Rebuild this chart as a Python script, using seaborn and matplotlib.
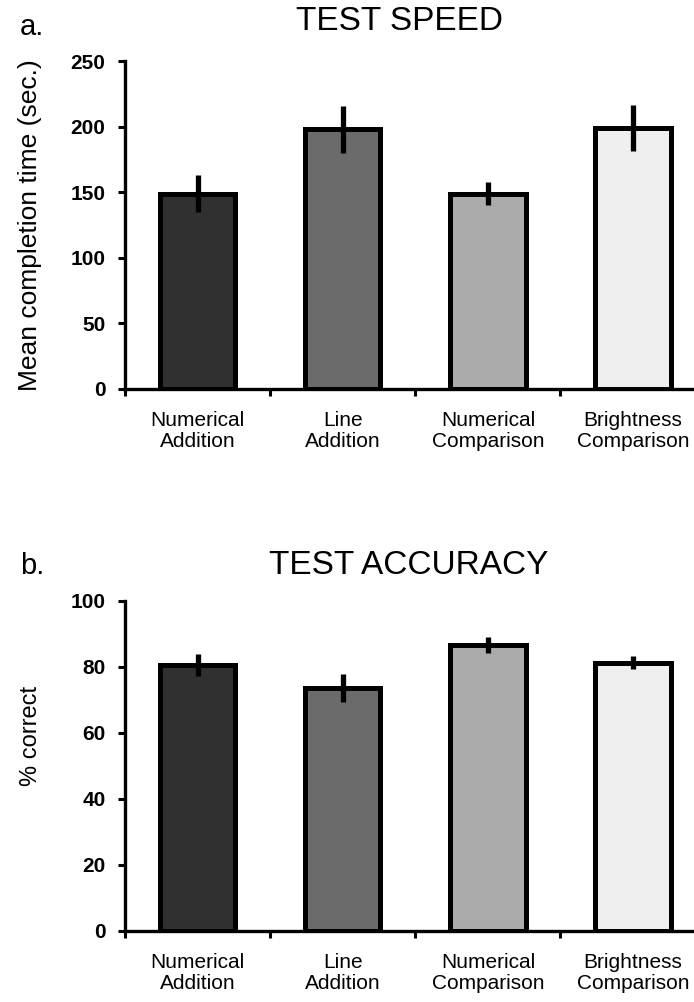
import numpy as np
import pandas as pd
import matplotlib
matplotlib.use("Agg")
import matplotlib.pyplot as plt
import seaborn as sns

categories = ["Numerical\nAddition", "Line\nAddition", "Numerical\nComparison", "Brightness\nComparison"]
colores = ["#303030", "#6b6b6b", "#ababab", "#efefef"]

speed_mean = [149, 198, 149, 199]
speed_err = [14, 18, 8.5, 17.5]

acc_mean = [80.6, 73.7, 86.7, 81.3]
acc_err = [3.4, 4.3, 2.4, 2.0]

sns.set_theme(style="ticks")
plt.rcParams["font.family"] = ["Liberation Sans", "DejaVu Sans"]
for k in ["text.color", "axes.labelcolor", "xtick.color", "ytick.color", "axes.edgecolor"]:
    plt.rcParams[k] = "black"

fig = plt.figure(figsize=(6.94, 10.02), dpi=100)
ax1 = fig.add_axes([0.1801, 0.6118, 0.8199, 0.3273])
ax2 = fig.add_axes([0.1801, 0.0709, 0.8199, 0.3293])


def panel(ax, medias, errores, ymax, paso, ylabel, ylab_size, ylab_y):
    df = pd.DataFrame({"cat": categories, "val": medias})
    sns.barplot(data=df, x="cat", y="val", hue="cat", palette=colores,
                legend=False, width=0.52, edgecolor="black", linewidth=3.6,
                errorbar=None, ax=ax)
    pos = np.arange(len(categories))
    ax.errorbar(pos, medias, yerr=errores, fmt="none", ecolor="black",
                elinewidth=3.8, capsize=0, zorder=5)
    ax.set_ylim(0, ymax)
    ax.set_xlim(-0.5, 3.42)
    ax.set_yticks(np.arange(0, ymax + 1, paso))
    ax.set_xticks(pos - 0.5)
    ax.set_xticklabels([])
    for i, c in enumerate(categories):
        ax.annotate(c, xy=(i, 0), xycoords=("data", "axes fraction"),
                    xytext=(0, -16), textcoords="offset points",
                    ha="center", va="top", fontsize=15, linespacing=1.15)
    for lab in ax.get_yticklabels():
        lab.set_fontweight("bold")
        lab.set_fontsize(15)
    ax.tick_params(axis="both", direction="out", length=5, width=2.2)
    ax.tick_params(axis="y", pad=9)
    sns.despine(ax=ax)
    ax.spines["left"].set_linewidth(2.4)
    ax.spines["bottom"].set_linewidth(2.4)
    ax.set_xlabel("")
    ax.set_ylabel(ylabel, fontsize=ylab_size)
    ax.yaxis.set_label_coords(-0.146, ylab_y)


panel(ax1, speed_mean, speed_err, 250, 50, "Mean completion time (sec.)", 19, 0.5)
panel(ax2, acc_mean, acc_err, 100, 20, "% correct", 17, 0.59)

fig.text(400 / 694, 1 - 22 / 1002, "TEST SPEED", fontsize=24, ha="center", va="center")
fig.text(409 / 694, 1 - 566 / 1002, "TEST ACCURACY", fontsize=24, ha="center", va="center")
fig.text(20 / 694, 1 - 27 / 1002, "a.", fontsize=21, ha="left", va="center")
fig.text(20 / 694, 1 - 566 / 1002, "b.", fontsize=21, ha="left", va="center")

fig.savefig("out.png", dpi=100)
